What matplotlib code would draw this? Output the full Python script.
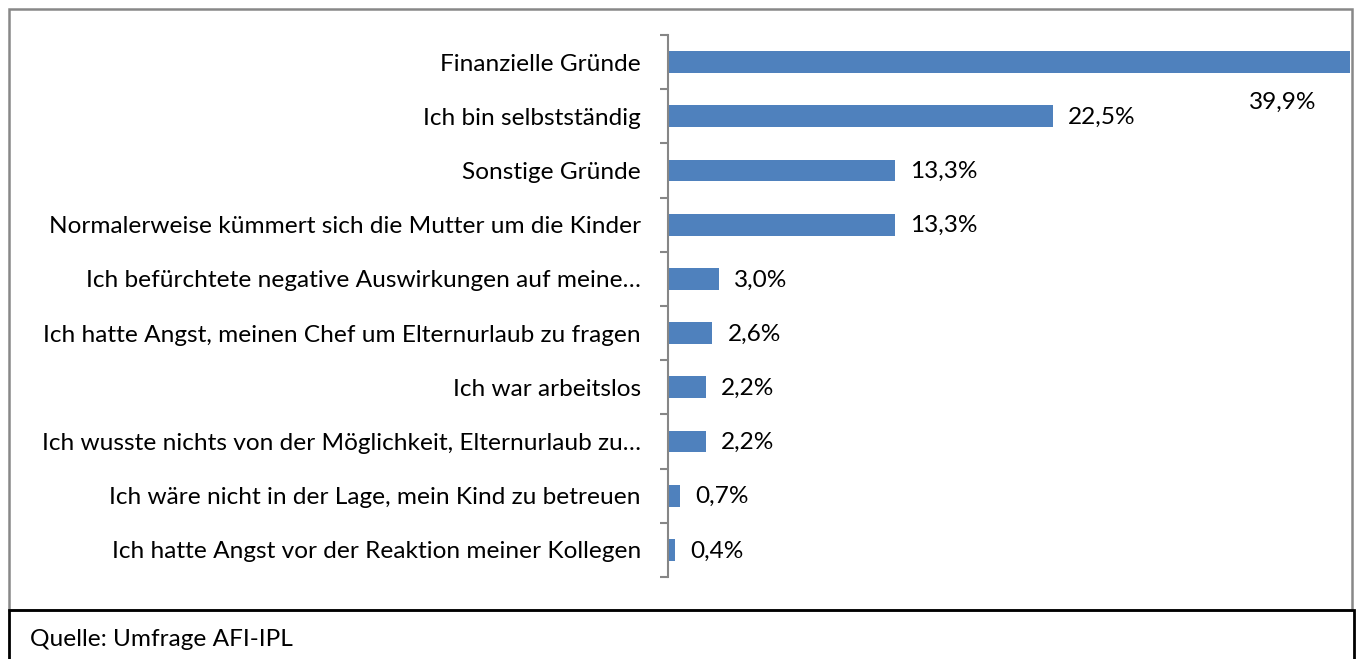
import matplotlib
matplotlib.use("Agg")
import matplotlib.pyplot as plt
from matplotlib.patches import Rectangle

categories = [
    "Finanzielle Gründe",
    "Ich bin selbstständig",
    "Sonstige Gründe",
    "Normalerweise kümmert sich die Mutter um die Kinder",
    "Ich befürchtete negative Auswirkungen auf meine…",
    "Ich hatte Angst, meinen Chef um Elternurlaub zu fragen",
    "Ich war arbeitslos",
    "Ich wusste nichts von der Möglichkeit, Elternurlaub zu…",
    "Ich wäre nicht in der Lage, mein Kind zu betreuen",
    "Ich hatte Angst vor der Reaktion meiner Kollegen",
]
values = [39.9, 22.5, 13.3, 13.3, 3.0, 2.6, 2.2, 2.2, 0.7, 0.4]
value_labels = ["39,9%", "22,5%", "13,3%", "13,3%", "3,0%", "2,6%", "2,2%", "2,2%", "0,7%", "0,4%"]
source = "Quelle: Umfrage AFI-IPL"

W, H = 1359, 659
fig = plt.figure(figsize=(W / 100, H / 100), dpi=100)
plt.rcParams['font.family'] = ['Lato', 'DejaVu Sans']
FS = 17.6

ax = fig.add_axes([668 / W, 1 - 577 / H, (1352 - 668) / W, (577 - 35) / H])
n = len(categories)
ypos = list(range(n))
ax.barh(ypos, values, height=0.4, color="#4F81BD", zorder=2)
ax.set_ylim(n - 0.5, -0.5)
ax.set_xlim(0, 40)

ax.set_yticks(ypos)
ax.set_yticklabels(categories, fontsize=FS, color="#000000")
ax.tick_params(axis='y', which='major', length=0, pad=19.5)
ax.set_yticks([i - 0.5 for i in range(n + 1)], minor=True)
ax.tick_params(axis='y', which='minor', length=6, width=1.5, color="#868686")
ax.set_xticks([])
for s in ["top", "right", "bottom"]:
    ax.spines[s].set_visible(False)
ax.spines["left"].set_color("#868686")
ax.spines["left"].set_linewidth(1.5)

for i, (v, lab) in enumerate(zip(values, value_labels)):
    if v > 35:
        ax.annotate(lab, xy=(v, i), xytext=(-68, -40), textcoords="offset pixels",
                    ha="center", va="center", fontsize=FS, annotation_clip=False)
    else:
        ax.annotate(lab, xy=(v, i), xytext=(15, -1), textcoords="offset pixels",
                    ha="left", va="center", fontsize=FS)

# chart border (gray) and source box (black)
fig.patches.append(Rectangle((9 / W, 1 - 610 / H), (1352 - 9) / W, (610 - 9) / H,
                             transform=fig.transFigure, fill=False,
                             edgecolor="#888888", linewidth=1.8, zorder=0))
fig.patches.append(Rectangle((9 / W, -0.01), (1354 - 9) / W, 1 - 610 / H + 0.01,
                             transform=fig.transFigure, fill=False,
                             edgecolor="#000000", linewidth=2, zorder=0))
fig.text(30 / W, 1 - 640 / H, source, fontsize=FS, ha="left", va="center")

fig.savefig("out.png", dpi=100)
